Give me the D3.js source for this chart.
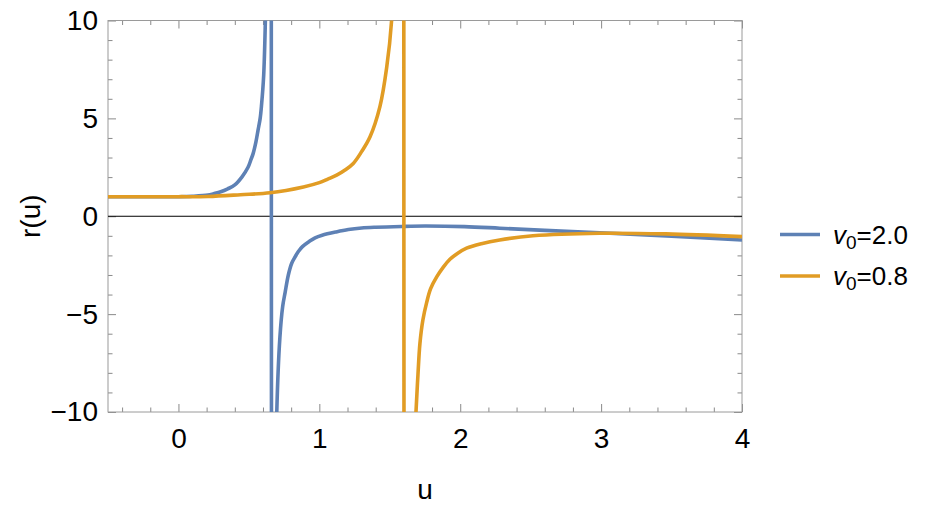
<!DOCTYPE html>
<html>
<head>
<meta charset="utf-8">
<script src="https://cdn.jsdelivr.net/npm/d3@7"></script>
<style>
  body { margin: 0; background: #fff; }
  text { font-family: "Liberation Sans", Arial, sans-serif; fill: #000; }
</style>
</head>
<body>
<div id="chart"></div>
<script>
// Data
//--------------------------
var seriesNames = ["2.0", "0.8"];
var seriesColors = ["#5E81B5", "#E19C24"];

// v0 = 2.0 (pole near u = 0.66)
var blueU = [-0.5, -0.2, 0, 0.1, 0.21, 0.25, 0.3, 0.35, 0.4, 0.45, 0.494, 0.515, 0.53, 0.55, 0.565, 0.58, 0.59, 0.605, 0.617, 0.63, 0.645, 0.656,
             0.664, 0.678, 0.69, 0.698, 0.72, 0.74, 0.757, 0.78, 0.804, 0.83, 0.851, 0.88, 0.93, 0.97, 1.02, 1.12, 1.206, 1.3, 1.4, 1.584, 1.75, 2.03, 2.28, 2.6, 2.99, 3.5, 4.0];
var blueR = [1, 1, 1, 1.02, 1.08, 1.15, 1.25, 1.4, 1.6, 2.0, 2.5, 2.9, 3.2, 3.8, 4.4, 5.0, 5.7, 7.2, 10, 15, 30, 80,
             -80, -30, -15, -10, -6.2, -4.6, -3.9, -3.0, -2.4, -2.05, -1.8, -1.55, -1.28, -1.1, -0.97, -0.8, -0.68, -0.6, -0.56, -0.52, -0.5, -0.53, -0.61, -0.72, -0.84, -1.02, -1.21];

// v0 = 0.8 (pole near u = 1.60)
var orangeU = [-0.5, -0.2, 0, 0.21, 0.44, 0.65, 0.887, 1.0, 1.06, 1.123, 1.18, 1.241, 1.3, 1.36, 1.43, 1.478, 1.513, 1.55, 1.575, 1.597,
               1.606, 1.64, 1.665, 1.686, 1.7, 1.714, 1.735, 1.762, 1.79, 1.833, 1.88, 1.927, 1.98, 2.045, 2.15, 2.28, 2.516, 2.99, 3.46, 4.0];
var orangeR = [1, 1, 1, 1.01, 1.1, 1.2, 1.5, 1.72, 1.9, 2.1, 2.35, 2.7, 3.3, 4.06, 5.6, 7.6, 10, 18, 30, 80,
               -80, -25, -14, -10, -8.1, -6.5, -5.3, -4.4, -3.7, -3.1, -2.6, -2.2, -1.9, -1.63, -1.4, -1.21, -1.0, -0.87, -0.9, -1.04];

var xMajor = [0, 1, 2, 3, 4];
var yMajor = [-10, -5, 0, 5, 10];

// Sizing parameters
//------------------
var svgWidth = 928;
var svgHeight = 509;

var margin = {
  top: 20.5,
  right: 186,
  bottom: 97,
  left: 108
};

var width = svgWidth - margin.left - margin.right;
var height = svgHeight - margin.top - margin.bottom;

// SVG wrapper
//------------
var svg = d3.select("#chart")
  .append("svg")
  .attr("width", svgWidth)
  .attr("height", svgHeight);

var chartGroup = svg.append("g")
  .attr("transform", `translate(${margin.left}, ${margin.top})`);

// Scales
//-------
var xScale = d3.scaleLinear().domain([-0.5, 4]).range([0, width]);
var yScale = d3.scaleLinear().domain([-10, 10]).range([height, 0]);

var xMinor = d3.range(-0.4, 4.001, 0.2).map(d => +d.toFixed(1)).filter(d => xMajor.indexOf(d) < 0);
var yMinor = d3.range(-9, 10, 1).filter(d => yMajor.indexOf(d) < 0);

// Frame ticks (inward, all four sides)
//-------------------------------------
function styleAxis(g) {
  g.select(".domain").remove();
  g.selectAll(".tick line").attr("stroke", "#8a8a8a");
  g.selectAll(".tick text").attr("font-size", 28);
}

chartGroup.append("g")
  .attr("transform", `translate(0, ${height})`)
  .call(d3.axisBottom(xScale).tickValues(xMajor).tickSizeInner(-8).tickSizeOuter(0).tickPadding(16)
    .tickFormat(d3.format("d")))
  .call(styleAxis);
chartGroup.append("g")
  .attr("transform", `translate(0, ${height})`)
  .call(d3.axisBottom(xScale).tickValues(xMinor).tickSizeInner(-4.5).tickSizeOuter(0).tickFormat(""))
  .call(styleAxis);
chartGroup.append("g")
  .call(d3.axisTop(xScale).tickValues(xMajor).tickSizeInner(-8).tickSizeOuter(0).tickFormat(""))
  .call(styleAxis);
chartGroup.append("g")
  .call(d3.axisTop(xScale).tickValues(xMinor).tickSizeInner(-4.5).tickSizeOuter(0).tickFormat(""))
  .call(styleAxis);

chartGroup.append("g")
  .call(d3.axisLeft(yScale).tickValues(yMajor).tickSizeInner(-8).tickSizeOuter(0).tickPadding(10)
    .tickFormat(d => d < 0 ? "\u2212" + Math.abs(d) : d))
  .call(styleAxis);
chartGroup.append("g")
  .call(d3.axisLeft(yScale).tickValues(yMinor).tickSizeInner(-4.5).tickSizeOuter(0).tickFormat(""))
  .call(styleAxis);
chartGroup.append("g")
  .attr("transform", `translate(${width}, 0)`)
  .call(d3.axisRight(yScale).tickValues(yMajor).tickSizeInner(-8).tickSizeOuter(0).tickFormat(""))
  .call(styleAxis);
chartGroup.append("g")
  .attr("transform", `translate(${width}, 0)`)
  .call(d3.axisRight(yScale).tickValues(yMinor).tickSizeInner(-4.5).tickSizeOuter(0).tickFormat(""))
  .call(styleAxis);

// frame
chartGroup.append("rect")
  .attr("width", width)
  .attr("height", height)
  .attr("fill", "none")
  .attr("stroke", "#9a9a9a")
  .attr("stroke-width", 1);

// zero line
chartGroup.append("line")
  .attr("x1", 0).attr("x2", width)
  .attr("y1", yScale(0)).attr("y2", yScale(0))
  .attr("stroke", "#000")
  .attr("stroke-width", 1);

// Curves
//-------
chartGroup.append("clipPath")
  .attr("id", "plotClip")
  .append("rect")
  .attr("width", width)
  .attr("height", height);

var line = d3.line()
  .x(d => xScale(d[0]))
  .y(d => yScale(d[1]))
  .curve(d3.curveCatmullRom.alpha(0.5));

var series = [
  d3.zip(blueU, blueR),
  d3.zip(orangeU, orangeR)
];

chartGroup.append("g")
  .attr("clip-path", "url(#plotClip)")
  .selectAll("path")
  .data(series)
  .enter()
  .append("path")
  .attr("d", line)
  .attr("fill", "none")
  .attr("stroke", (d, i) => seriesColors[i])
  .attr("stroke-width", 3.6);

// Axis labels
//------------
svg.append("text")
  .attr("x", margin.left + xScale(1.75))
  .attr("y", 499)
  .attr("text-anchor", "middle")
  .attr("font-size", 28)
  .text("u");

svg.append("text")
  .attr("transform", `translate(40, ${margin.top + yScale(0)}) rotate(-90)`)
  .attr("text-anchor", "middle")
  .attr("font-size", 28)
  .text("r(u)");

// Legend
//-------
var legend = svg.append("g")
  .selectAll("g")
  .data(seriesNames)
  .enter()
  .append("g")
  .attr("transform", (d, i) => `translate(780, ${234.5 + i * 41.5})`);

legend.append("line")
  .attr("x1", 0).attr("x2", 40)
  .attr("stroke", (d, i) => seriesColors[i])
  .attr("stroke-width", 3.6);

var legendText = legend.append("text")
  .attr("x", 53)
  .attr("y", 9)
  .attr("font-size", 26);
legendText.append("tspan").attr("font-style", "italic").text("v");
legendText.append("tspan").attr("font-size", 19).attr("dy", 5).text("0");
legendText.append("tspan").attr("dy", -5).text(d => "=" + d);
</script>
</body>
</html>
